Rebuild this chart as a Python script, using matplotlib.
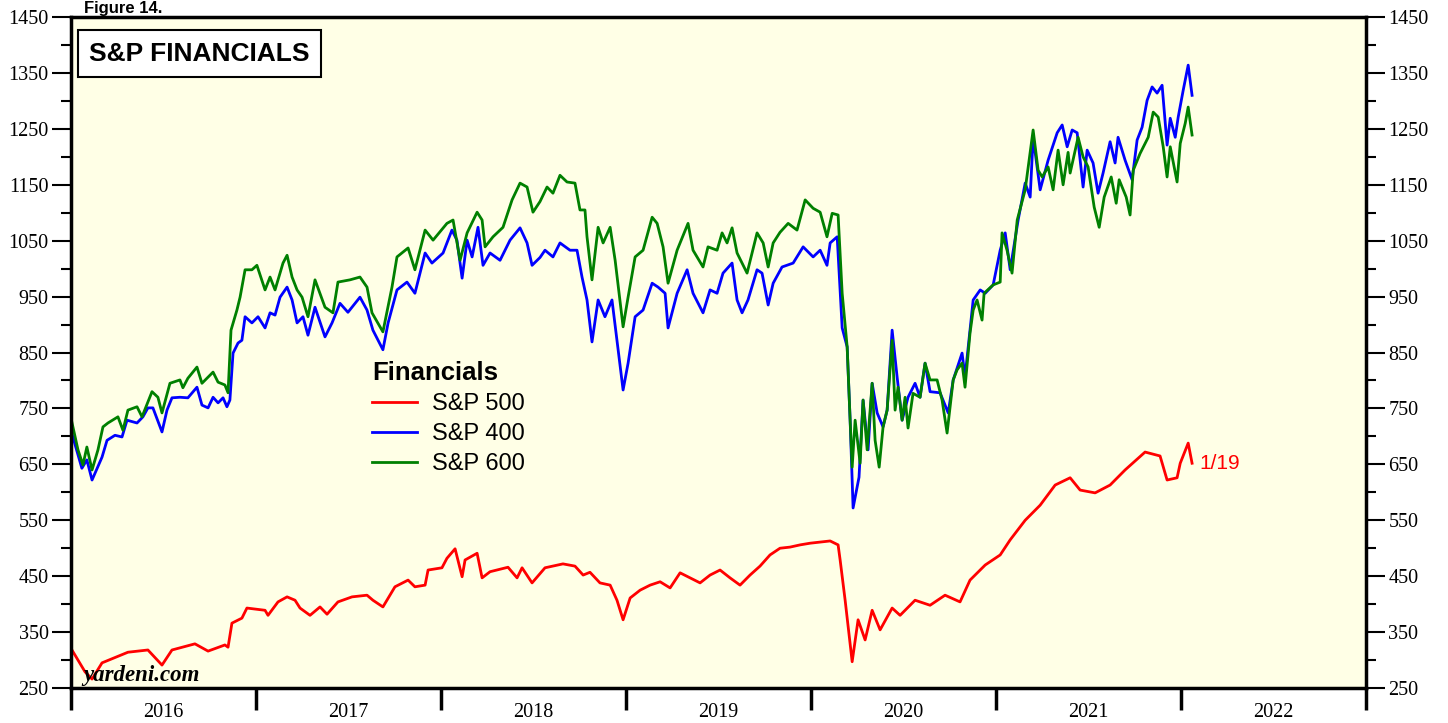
import matplotlib
matplotlib.use('Agg')
import matplotlib.pyplot as plt
from matplotlib.ticker import MultipleLocator, FixedLocator, NullFormatter, FixedFormatter

# decimal years / index values
sp500_t = [2016.000, 2016.076, 2016.114, 2016.168, 2016.308, 2016.416, 2016.492, 2016.546,
           2016.670, 2016.741, 2016.832, 2016.849, 2016.870, 2016.924, 2016.951, 2017.049,
           2017.065, 2017.119, 2017.168, 2017.211, 2017.238, 2017.292, 2017.346, 2017.384,
           2017.443, 2017.519, 2017.600, 2017.632, 2017.686, 2017.751, 2017.822, 2017.859,
           2017.914, 2017.930, 2018.005, 2018.032, 2018.076, 2018.114, 2018.130, 2018.195,
           2018.222, 2018.265, 2018.362, 2018.411, 2018.438, 2018.492, 2018.562, 2018.659,
           2018.724, 2018.768, 2018.805, 2018.859, 2018.914, 2018.951, 2018.984, 2019.022,
           2019.076, 2019.130, 2019.184, 2019.238, 2019.292, 2019.346, 2019.400, 2019.454,
           2019.508, 2019.562, 2019.616, 2019.670, 2019.724, 2019.778, 2019.832, 2019.886,
           2019.941, 2019.995, 2020.049, 2020.103, 2020.146, 2020.157,
           2020.184, 2020.222, 2020.254, 2020.292, 2020.330, 2020.373, 2020.438, 2020.481,
           2020.562, 2020.643, 2020.724, 2020.805, 2020.859, 2020.941, 2021.022, 2021.076,
           2021.157, 2021.238, 2021.319, 2021.400, 2021.454, 2021.535, 2021.616, 2021.697,
           2021.805, 2021.886, 2021.924, 2021.978, 2021.995, 2022.038, 2022.059]
sp500_v = [321, 279, 266, 295, 314, 318, 291, 318, 329, 316, 327, 323, 366, 375, 393, 389,
           380, 404, 413, 407, 393, 380, 395, 382, 404, 413, 416, 407, 395, 431, 443, 431,
           434, 461, 465, 482, 499, 449, 479, 491, 447, 458, 466, 447, 465, 438, 465, 472,
           468, 452, 457, 438, 434, 407, 372, 411,
           425, 434, 440, 429, 456, 447, 438, 452,
           461, 447, 434, 452, 468, 488, 500, 502,
           506, 509, 511, 513, 506, 479,
           407, 297, 372, 336, 389, 354, 393, 380, 407, 398, 416, 404, 443, 470, 488, 515,
           550, 577, 613, 626, 604, 599, 613, 640, 672, 665, 622, 626, 652, 688, 652]

sp400_t = [2016.000, 2016.059, 2016.086, 2016.114, 2016.168, 2016.195, 2016.238, 2016.276,
           2016.303, 2016.357, 2016.389, 2016.416, 2016.443, 2016.492, 2016.519, 2016.546,
           2016.589, 2016.632, 2016.681, 2016.708, 2016.741, 2016.768, 2016.795, 2016.822,
           2016.843, 2016.859, 2016.876, 2016.903, 2016.924, 2016.941, 2016.978, 2017.011,
           2017.049, 2017.076, 2017.103, 2017.130, 2017.168, 2017.195, 2017.222, 2017.254,
           2017.281, 2017.319, 2017.373, 2017.411, 2017.454, 2017.497, 2017.562, 2017.600,
           2017.632, 2017.686, 2017.714, 2017.762, 2017.816, 2017.859, 2017.914, 2017.951,
           2018.011, 2018.059, 2018.086, 2018.114, 2018.141, 2018.168, 2018.200, 2018.227,
           2018.265, 2018.319, 2018.373, 2018.427, 2018.465, 2018.492, 2018.535, 2018.562,
           2018.605, 2018.643, 2018.697, 2018.735, 2018.762, 2018.789, 2018.816, 2018.849,
           2018.886, 2018.924, 2018.951, 2018.984, 2019.011, 2019.049, 2019.092, 2019.141,
           2019.173, 2019.211, 2019.227, 2019.276, 2019.330, 2019.362, 2019.416, 2019.454,
           2019.492, 2019.524, 2019.573, 2019.600, 2019.627, 2019.659, 2019.708, 2019.735,
           2019.768, 2019.795, 2019.843, 2019.903, 2019.957, 2020.011, 2020.049, 2020.086,
           2020.103, 2020.141, 2020.168, 2020.195, 2020.211, 2020.227, 2020.259, 2020.281,
           2020.308, 2020.330, 2020.357, 2020.389, 2020.411, 2020.438, 2020.465, 2020.492,
           2020.524, 2020.562, 2020.589, 2020.616, 2020.643, 2020.697, 2020.741, 2020.768,
           2020.816, 2020.832, 2020.876, 2020.914, 2020.941, 2020.984, 2021.022, 2021.049,
           2021.076, 2021.119, 2021.157, 2021.184, 2021.200, 2021.238, 2021.281, 2021.330,
           2021.357, 2021.384, 2021.411, 2021.438, 2021.470, 2021.492, 2021.524, 2021.551,
           2021.578, 2021.616, 2021.643, 2021.659, 2021.697, 2021.735, 2021.762, 2021.789,
           2021.816, 2021.843, 2021.870, 2021.897, 2021.924, 2021.941, 2021.968, 2021.984,
           2022.011, 2022.038, 2022.059]
sp400_v = [711, 643, 658, 622, 663, 693, 702, 699, 729, 724, 735, 751, 751, 708, 747, 769,
           770, 769, 788, 756, 751, 770, 760, 769, 753, 765, 849, 867, 872, 914, 903, 914,
           894, 921, 917, 949, 967, 944, 903, 914, 881, 931, 878, 903, 938, 922, 949, 926,
           890, 855, 903, 962, 976, 956, 1028, 1010, 1028, 1069, 1051, 983, 1051, 1021, 1074, 1006,
           1028, 1015, 1051, 1073, 1046, 1006, 1020, 1033, 1021, 1046, 1033, 1033, 985, 944, 869, 944,
           914, 944, 872, 783, 831, 914, 926, 974, 967, 956, 894, 956, 998, 956, 921, 962,
           956, 992, 1010, 944, 921, 944, 998, 992, 935, 974, 1003, 1010, 1039, 1021, 1033, 1006,
           1046, 1057, 894, 860, 729, 572, 627, 765, 676, 795, 742, 717, 747, 890, 806, 729,
           770, 795, 770, 831, 780, 778, 742, 801, 849, 806, 944, 962, 956, 971, 1033, 1064,
           998, 1087, 1153, 1128, 1235, 1141, 1194, 1243, 1257, 1218, 1248, 1243, 1146, 1212, 1189, 1135,
           1171, 1227, 1189, 1235, 1194, 1159, 1230, 1253, 1301, 1325, 1314, 1328, 1221, 1269, 1235, 1271,
           1319, 1364, 1310]

sp600_t = [2016.000, 2016.038, 2016.065, 2016.086, 2016.114, 2016.146, 2016.173, 2016.200,
           2016.254, 2016.281, 2016.308, 2016.357, 2016.384, 2016.438, 2016.470, 2016.492,
           2016.535, 2016.589, 2016.605, 2016.632, 2016.681, 2016.708, 2016.768, 2016.795,
           2016.832, 2016.849, 2016.865, 2016.897, 2016.914, 2016.941, 2016.978, 2017.005,
           2017.049, 2017.076, 2017.103, 2017.146, 2017.168, 2017.195, 2017.222, 2017.249,
           2017.281, 2017.319, 2017.373, 2017.416, 2017.443, 2017.508, 2017.562, 2017.600,
           2017.627, 2017.686, 2017.735, 2017.762, 2017.822, 2017.859, 2017.914, 2017.957,
           2018.032, 2018.065, 2018.103, 2018.141, 2018.195, 2018.222, 2018.238, 2018.281,
           2018.335, 2018.384, 2018.427, 2018.465, 2018.497, 2018.535, 2018.573, 2018.605,
           2018.643, 2018.681, 2018.724, 2018.751, 2018.778, 2018.789, 2018.816, 2018.849,
           2018.876, 2018.914, 2018.941, 2018.984, 2019.011, 2019.049, 2019.092, 2019.141,
           2019.168, 2019.200, 2019.227, 2019.276, 2019.335, 2019.362, 2019.416, 2019.443,
           2019.492, 2019.519, 2019.546, 2019.573, 2019.600, 2019.654, 2019.708, 2019.741,
           2019.768, 2019.795, 2019.832, 2019.876, 2019.924, 2019.968, 2020.011, 2020.049,
           2020.086, 2020.114, 2020.146, 2020.168, 2020.195, 2020.211, 2020.222, 2020.238,
           2020.265, 2020.281, 2020.303, 2020.330, 2020.346, 2020.368, 2020.389, 2020.411,
           2020.438, 2020.454, 2020.470, 2020.492, 2020.508, 2020.524, 2020.551, 2020.589,
           2020.616, 2020.643, 2020.681, 2020.708, 2020.735, 2020.768, 2020.789, 2020.816,
           2020.832, 2020.859, 2020.876, 2020.897, 2020.924, 2020.935, 2020.984, 2021.022,
           2021.032, 2021.059, 2021.086, 2021.114, 2021.157, 2021.200, 2021.227, 2021.249,
           2021.281, 2021.308, 2021.335, 2021.362, 2021.389, 2021.400, 2021.432, 2021.443,
           2021.470, 2021.497, 2021.530, 2021.557, 2021.584, 2021.622, 2021.649, 2021.665,
           2021.703, 2021.724, 2021.741, 2021.778, 2021.822, 2021.849, 2021.876, 2021.903,
           2021.924, 2021.941, 2021.978, 2021.995, 2022.022, 2022.038, 2022.059]
sp600_v = [733, 676, 649, 681, 640, 676, 717, 724, 735, 711, 747, 753, 735, 780, 770, 742,
           795, 801, 787, 804, 824, 795, 815, 797, 792, 778, 890, 926, 949, 998, 998, 1006,
           962, 985, 962, 1010, 1024, 985, 962, 949, 914, 980, 931, 921, 976, 980, 985, 967,
           921, 887, 967, 1021, 1037, 998, 1069, 1051, 1081, 1087, 1015, 1064, 1101, 1087, 1039, 1057,
           1074, 1123, 1153, 1146, 1101, 1120, 1146, 1135, 1167, 1155, 1153, 1105, 1105, 1057, 980, 1074,
           1046, 1074, 1015, 896, 949, 1021, 1033, 1092, 1081, 1039, 974, 1033, 1081, 1033, 1003, 1039,
           1033, 1064, 1046, 1073, 1028, 992, 1064, 1046, 1003, 1046, 1065, 1081, 1069, 1123, 1108, 1101,
           1057, 1099, 1096, 956, 860, 729, 645, 729, 652, 765, 676, 795, 693, 645, 717, 747,
           872, 747, 788, 729, 770, 715, 777, 770, 831, 801, 801, 765, 706, 801, 819, 831,
           788, 885, 926, 944, 908, 956, 971, 976, 1064, 1033, 992, 1087, 1141, 1248, 1176, 1164,
           1182, 1141, 1212, 1150, 1208, 1171, 1218, 1235, 1200, 1182, 1110, 1074, 1128, 1164, 1117, 1159,
           1128, 1096, 1176, 1206, 1235, 1280, 1271, 1218, 1164, 1218, 1155, 1224, 1260, 1289, 1239]

years = [2016, 2017, 2018, 2019, 2020, 2021, 2022]
serif = 'Liberation Serif'
sans = 'Liberation Sans'

fig = plt.figure(figsize=(14.48, 7.23), dpi=100)
ax = fig.add_axes([0.049, 0.0484, 0.8945, 0.928])
ax.set_facecolor('#FFFFE6')

ax.plot(sp500_t, sp500_v, color='#FF0000', lw=2.0, label='S&P 500')
ax.plot(sp400_t, sp400_v, color='#0000FF', lw=2.0, label='S&P 400')
ax.plot(sp600_t, sp600_v, color='#008000', lw=2.0, label='S&P 600')

ax.set_xlim(2016, 2023)
ax.set_ylim(250, 1450)

# y axis: labels every 100, minor ticks in between, both sides
ax.yaxis.set_major_locator(FixedLocator(list(range(250, 1451, 100))))
ax.yaxis.set_minor_locator(FixedLocator(list(range(300, 1451, 100))))
ax.tick_params(axis='y', which='major', direction='out', length=14, width=1.5,
               left=True, right=True, labelleft=True, labelright=True, labelsize=14.5, pad=2)
ax.tick_params(axis='y', which='minor', direction='out', length=7, width=1.5,
               left=True, right=True)

# x axis: ticks at year boundaries, labels centred on each year
ax.xaxis.set_major_locator(MultipleLocator(1))
ax.xaxis.set_major_formatter(NullFormatter())
ax.xaxis.set_minor_locator(FixedLocator([y + 0.5 for y in years]))
ax.xaxis.set_minor_formatter(FixedFormatter([str(y) for y in years]))
ax.tick_params(axis='x', which='major', direction='out', length=16, width=2.5)
ax.tick_params(axis='x', which='minor', length=0, labelsize=14.5, pad=11)

for lab in ax.get_xticklabels(minor=True):
    lab.set_fontfamily(serif)
for t in ax.yaxis.get_major_ticks():
    t.label1.set_fontfamily(serif)
    t.label2.set_fontfamily(serif)

for sp in ax.spines.values():
    sp.set_linewidth(2.5)

# title box
ax.text(0.0139, 0.9456, 'S&P FINANCIALS', transform=ax.transAxes, fontsize=19,
        fontweight='bold', family=sans, va='center', ha='left',
        bbox=dict(boxstyle='square,pad=0.42', fc='white', ec='black', lw=1.5))

leg = ax.legend(loc='upper left', bbox_to_anchor=(0.2324, 0.487), frameon=False,
                title='Financials', prop={'family': sans, 'size': 17},
                title_fontproperties={'family': sans, 'size': 18.5, 'weight': 'bold'},
                handlelength=1.9, handletextpad=0.64, labelspacing=0.34,
                borderaxespad=0, borderpad=0, alignment='left')
for line in leg.get_lines():
    line.set_linewidth(2)

ax.text(sp500_t[-1] + 0.04, sp500_v[-1], '1/19', color='#FF0000', fontsize=15,
        family=sans, va='center', ha='left')

ax.text(0.0093, 0.0104, 'yardeni.com', transform=ax.transAxes, fontsize=16.5,
        family=serif, fontweight='bold', style='italic', va='baseline', ha='left')

fig.text(0.058, 0.999, 'Figure 14.', fontsize=12, fontweight='bold', family=sans,
         va='top', ha='left')

fig.savefig('out.png', dpi=100, facecolor='white')
